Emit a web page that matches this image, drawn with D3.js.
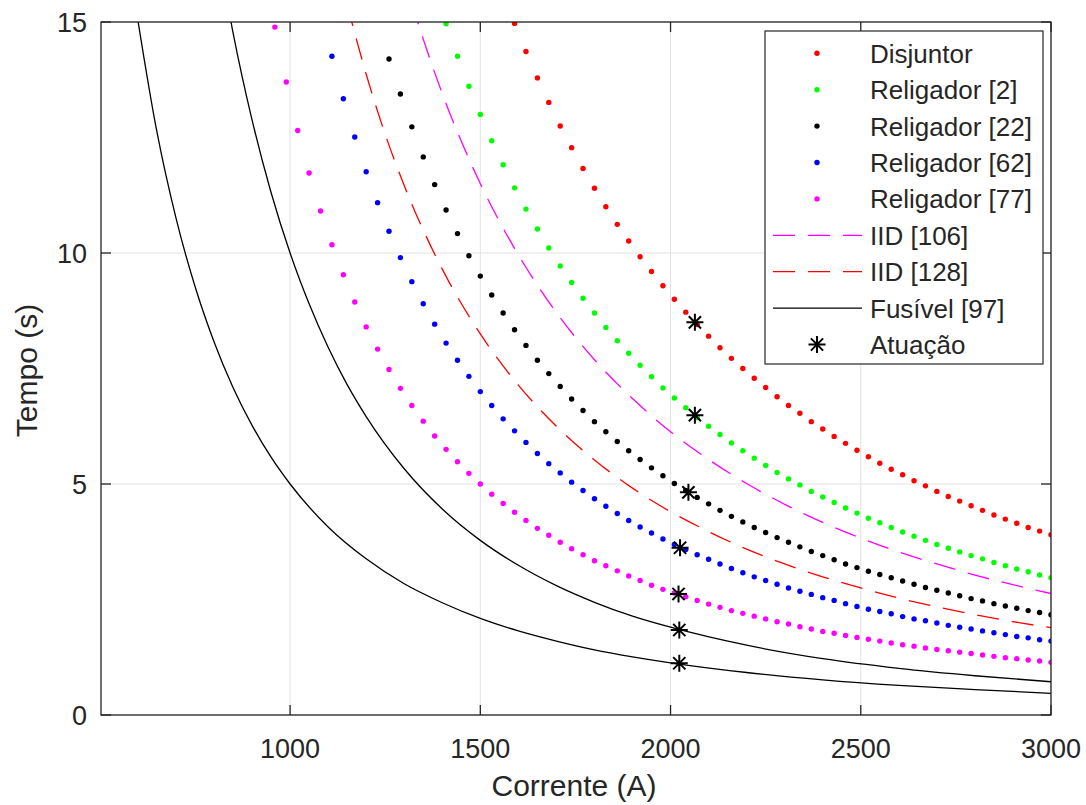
<!DOCTYPE html>
<html>
<head>
<meta charset="utf-8">
<script src="https://cdn.jsdelivr.net/npm/d3@7"></script>
<style>
  body { margin: 0; background: #fff; }
  text { font-family: "Liberation Sans", Arial, Helvetica, sans-serif; fill: #262626; }
</style>
</head>
<body>
<div id="grafico"></div>
<script>
// grade de corrente dos pontos (A) - todas as series terminam em 3000
var corrente = [960, 990, 1020, 1050, 1080, 1110, 1140, 1170, 1200, 1230, 1260, 1290, 1320, 1350, 1380,
  1410, 1440, 1470, 1500, 1530, 1560, 1590, 1620, 1650, 1680, 1710, 1740, 1770, 1800, 1830, 1860, 1890,
  1920, 1950, 1980, 2010, 2040, 2070, 2100, 2130, 2160, 2190, 2220, 2250, 2280, 2310, 2340, 2370, 2400,
  2430, 2460, 2490, 2520, 2550, 2580, 2610, 2640, 2670, 2700, 2730, 2760, 2790, 2820, 2850, 2880, 2910,
  2940, 2970, 3000];

var disjuntor = [14.97, 14.36, 13.79, 13.26, 12.75, 12.28, 11.83, 11.40, 11.00, 10.62, 10.26, 9.92, 9.60,
  9.29, 9.00, 8.72, 8.45, 8.20, 7.95, 7.72, 7.50, 7.29, 7.09, 6.89, 6.70, 6.53, 6.35, 6.19, 6.03, 5.88,
  5.73, 5.59, 5.45, 5.32, 5.20, 5.07, 4.96, 4.84, 4.73, 4.63, 4.53, 4.43, 4.33, 4.24, 4.15, 4.06, 3.98, 3.90];
var religador2 = [14.96, 14.26, 13.61, 13.00, 12.43, 11.91, 11.41, 10.95, 10.52, 10.11, 9.72, 9.36, 9.02,
  8.70, 8.39, 8.10, 7.83, 7.57, 7.32, 7.08, 6.86, 6.65, 6.44, 6.25, 6.07, 5.89, 5.72, 5.56, 5.40, 5.25,
  5.11, 4.98, 4.84, 4.72, 4.60, 4.48, 4.37, 4.26, 4.16, 4.06, 3.96, 3.87, 3.78, 3.69, 3.61, 3.53, 3.45,
  3.38, 3.30, 3.23, 3.16, 3.10, 3.03, 2.97];
var religador22 = [14.20, 13.44, 12.73, 12.08, 11.48, 10.93, 10.42, 9.94, 9.50, 9.09, 8.70, 8.34, 8.00,
  7.68, 7.39, 7.11, 6.84, 6.59, 6.35, 6.13, 5.92, 5.72, 5.53, 5.35, 5.18, 5.01, 4.86, 4.71, 4.57, 4.43,
  4.30, 4.18, 4.06, 3.95, 3.84, 3.74, 3.64, 3.54, 3.45, 3.36, 3.27, 3.19, 3.11, 3.04, 2.97, 2.90, 2.83,
  2.76, 2.70, 2.64, 2.58, 2.52, 2.47, 2.41, 2.36, 2.31, 2.26, 2.22, 2.17];
var religador62 = [14.26, 13.34, 12.51, 11.76, 11.09, 10.47, 9.90, 9.38, 8.90, 8.46, 8.05, 7.68, 7.33,
  7.00, 6.70, 6.41, 6.15, 5.90, 5.66, 5.44, 5.24, 5.04, 4.86, 4.68, 4.52, 4.36, 4.21, 4.07, 3.94, 3.81,
  3.69, 3.58, 3.47, 3.37, 3.27, 3.17, 3.08, 2.99, 2.91, 2.83, 2.75, 2.68, 2.61, 2.54, 2.48, 2.41, 2.35,
  2.29, 2.24, 2.19, 2.13, 2.08, 2.04, 1.99, 1.94, 1.90, 1.86, 1.82, 1.78, 1.74, 1.70, 1.67, 1.63, 1.60];
var religador77 = [14.89, 13.70, 12.65, 11.73, 10.91, 10.18, 9.53, 8.94, 8.40, 7.92, 7.48, 7.07, 6.70,
  6.36, 6.04, 5.75, 5.48, 5.23, 5.00, 4.78, 4.58, 4.39, 4.21, 4.04, 3.89, 3.74, 3.60, 3.47, 3.34, 3.23,
  3.12, 3.01, 2.91, 2.81, 2.72, 2.64, 2.56, 2.48, 2.40, 2.33, 2.26, 2.20, 2.14, 2.08, 2.02, 1.97, 1.91,
  1.86, 1.81, 1.77, 1.72, 1.68, 1.64, 1.60, 1.56, 1.52, 1.49, 1.45, 1.42, 1.39, 1.36, 1.33, 1.30, 1.27,
  1.24, 1.22, 1.19, 1.17, 1.14];

// curvas continuas (IID tracejadas)
var iid106Corrente = [1320, 1350, 1400, 1450, 1500, 1600, 1700, 1800, 1900, 2000, 2100, 2200, 2300, 2400,
  2500, 2600, 2700, 2800, 2900, 3000];
var iid106Tempo = [15.41, 14.63, 13.45, 12.42, 11.50, 9.96, 8.71, 7.69, 6.85, 6.13, 5.53, 5.01, 4.56, 4.17,
  3.83, 3.53, 3.27, 3.03, 2.82, 2.63];
var iid128Corrente = [1150, 1200, 1250, 1300, 1400, 1500, 1600, 1700, 1800, 1900, 2000, 2100, 2200, 2300,
  2400, 2500, 2600, 2700, 2800, 2900, 3000];
var iid128Tempo = [15.38, 13.87, 12.57, 11.46, 9.65, 8.25, 7.14, 6.25, 5.52, 4.91, 4.40, 3.97, 3.59, 3.27,
  2.99, 2.75, 2.53, 2.34, 2.17, 2.02, 1.89];

// fusivel [97]: duas curvas
var fusivelCorrente = [590, 650, 700, 750, 800, 850, 900, 950, 1000, 1100, 1200, 1300, 1400, 1500, 1600,
  1700, 1800, 1900, 2000, 2200, 2400, 2600, 2800, 3000];
var fusivelRapido = [15.55, 12.62, 10.76, 9.28, 8.08, 7.09, 6.27, 5.58, 5.00, 4.07, 3.38, 2.84, 2.43, 2.09,
  1.82, 1.60, 1.41, 1.26, 1.13, 0.92, 0.76, 0.64, 0.55, 0.47];
var fusivelLentoCorrente = [840, 850, 900, 950, 1000, 1050, 1100, 1150, 1200, 1300, 1400, 1500, 1600, 1700,
  1800, 1900, 2000, 2200, 2400, 2600, 2800, 3000];
var fusivelLento = [15.20, 14.77, 12.88, 11.31, 10.00, 8.90, 7.96, 7.15, 6.46, 5.33, 4.46, 3.78, 3.24, 2.80,
  2.44, 2.14, 1.90, 1.51, 1.22, 1.01, 0.85, 0.72];

// pontos de atuacao
var atuacaoCorrente = [2064, 2064, 2047, 2025, 2021, 2023, 2023];
var atuacaoTempo = [8.50, 6.49, 4.82, 3.62, 2.62, 1.84, 1.12];

var xTicks = [1000, 1500, 2000, 2500, 3000];
var yTicks = [0, 5, 10, 15];

var margin = {top: 22, right: 35, bottom: 90, left: 101},
    width = 950,
    height = 693;

var svg = d3.select("#grafico")
  .append("svg")
    .attr("width", 1086)
    .attr("height", 805)
  .append("g")
    .attr("transform", "translate(" + margin.left + "," + margin.top + ")");

var x = d3.scaleLinear().domain([503, 3000]).range([0, width]);
var y = d3.scaleLinear().domain([0, 15]).range([height, 0]);

svg.append("clipPath").attr("id", "area")
  .append("rect").attr("width", width).attr("height", height);

// grade
svg.append("g").selectAll("line").data(xTicks).enter().append("line")
  .attr("x1", function (d) { return x(d); }).attr("x2", function (d) { return x(d); })
  .attr("y1", 0).attr("y2", height)
  .style("stroke", "#e3e3e3").style("stroke-width", 1);
svg.append("g").selectAll("line").data(yTicks).enter().append("line")
  .attr("y1", function (d) { return y(d); }).attr("y2", function (d) { return y(d); })
  .attr("x1", 0).attr("x2", width)
  .style("stroke", "#e3e3e3").style("stroke-width", 1);

var plot = svg.append("g").attr("clip-path", "url(#area)");

var linha = d3.line()
  .x(function (d) { return x(d[0]); })
  .y(function (d) { return y(d[1]); })
  .curve(d3.curveMonotoneX);

function pares(cs, ts) {
  return ts.map(function (t, i) { return [cs[i], t]; });
}

// linhas
plot.append("path").datum(pares(fusivelCorrente, fusivelRapido))
  .attr("d", linha).style("fill", "none").style("stroke", "#000").style("stroke-width", 1.3);
plot.append("path").datum(pares(fusivelLentoCorrente, fusivelLento))
  .attr("d", linha).style("fill", "none").style("stroke", "#000").style("stroke-width", 1.3);
plot.append("path").datum(pares(iid106Corrente, iid106Tempo))
  .attr("d", linha).style("fill", "none").style("stroke", "#ff00ff").style("stroke-width", 1.3)
  .style("stroke-dasharray", "22,13");
plot.append("path").datum(pares(iid128Corrente, iid128Tempo))
  .attr("d", linha).style("fill", "none").style("stroke", "#ff0000").style("stroke-width", 1.3)
  .style("stroke-dasharray", "22,13");

// series pontilhadas (alinhadas ao fim da grade de corrente)
var series = [
  {nome: "Disjuntor", t: disjuntor, cor: "#ff0000"},
  {nome: "Religador [2]", t: religador2, cor: "#00ff00"},
  {nome: "Religador [22]", t: religador22, cor: "#000000"},
  {nome: "Religador [62]", t: religador62, cor: "#0000ff"},
  {nome: "Religador [77]", t: religador77, cor: "#ff00ff"}
];

series.forEach(function (s) {
  var ini = corrente.length - s.t.length;
  plot.append("g")
    .selectAll("circle")
    .data(s.t)
    .enter()
    .append("circle")
      .attr("cx", function (d, i) { return x(corrente[ini + i]); })
      .attr("cy", function (d) { return y(d); })
      .attr("r", 2.7)
      .style("fill", s.cor);
});

// asterisco
function asterisco(s) {
  var d = s * 0.72;
  return "M0," + (-s) + "L0," + s + "M" + (-s) + ",0L" + s + ",0" +
    "M" + (-d) + "," + (-d) + "L" + d + "," + d + "M" + (-d) + "," + d + "L" + d + "," + (-d);
}

svg.append("g")
  .selectAll("path")
  .data(atuacaoTempo)
  .enter()
  .append("path")
    .attr("d", asterisco(8.5))
    .attr("transform", function (d, i) { return "translate(" + x(atuacaoCorrente[i]) + "," + y(d) + ")"; })
    .style("fill", "none").style("stroke", "#000").style("stroke-width", 2);

// eixos (caixa com marcas internas)
var cinza = "#262626";
svg.append("rect").attr("width", width).attr("height", height)
  .style("fill", "none").style("stroke", cinza).style("stroke-width", 1.3);

var marcas = svg.append("g");
xTicks.forEach(function (v) {
  marcas.append("line").attr("x1", x(v)).attr("x2", x(v)).attr("y1", height).attr("y2", height - 10)
    .style("stroke", cinza).style("stroke-width", 1.3);
  marcas.append("line").attr("x1", x(v)).attr("x2", x(v)).attr("y1", 0).attr("y2", 10)
    .style("stroke", cinza).style("stroke-width", 1.3);
  marcas.append("text").attr("x", x(v)).attr("y", height + 43)
    .attr("text-anchor", "middle").style("font-size", "27px").text(v);
});
yTicks.forEach(function (v) {
  marcas.append("line").attr("x1", 0).attr("x2", 10).attr("y1", y(v)).attr("y2", y(v))
    .style("stroke", cinza).style("stroke-width", 1.3);
  marcas.append("line").attr("x1", width).attr("x2", width - 10).attr("y1", y(v)).attr("y2", y(v))
    .style("stroke", cinza).style("stroke-width", 1.3);
  marcas.append("text").attr("x", -14).attr("y", y(v) + 10)
    .attr("text-anchor", "end").style("font-size", "27px").text(v);
});

svg.append("text")
  .attr("text-anchor", "middle")
  .attr("x", width / 2 - 2)
  .attr("y", height + 81)
  .style("font-size", "30px")
  .text("Corrente (A)");

svg.append("text")
  .attr("text-anchor", "middle")
  .attr("transform", "translate(" + (-64) + "," + (height / 2 + 2) + ") rotate(-90)")
  .style("font-size", "30px")
  .text("Tempo (s)");

// legenda
var leg = svg.append("g").attr("transform", "translate(" + (765 - margin.left) + "," + (31 - margin.top) + ")");
leg.append("rect").attr("width", 278).attr("height", 333)
  .style("fill", "#fff").style("stroke", cinza).style("stroke-width", 1.2);

var itens = series.map(function (s) { return {nome: s.nome, cor: s.cor, tipo: "ponto"}; });
itens.push({nome: "IID [106]", cor: "#ff00ff", tipo: "tracejado"});
itens.push({nome: "IID [128]", cor: "#ff0000", tipo: "tracejado"});
itens.push({nome: "Fusível [97]", cor: "#000000", tipo: "linha"});
itens.push({nome: "Atuação", cor: "#000000", tipo: "asterisco"});

itens.forEach(function (it, i) {
  var yy = 22.3 + i * 36.4;
  if (it.tipo === "ponto") {
    leg.append("circle").attr("cx", 52).attr("cy", yy).attr("r", 2.7).style("fill", it.cor);
  } else if (it.tipo === "asterisco") {
    leg.append("path").attr("d", asterisco(8.5)).attr("transform", "translate(52," + yy + ")")
      .style("fill", "none").style("stroke", "#000").style("stroke-width", 2);
  } else {
    leg.append("line").attr("x1", 8).attr("x2", 97).attr("y1", yy).attr("y2", yy)
      .style("stroke", it.cor).style("stroke-width", 1.3)
      .style("stroke-dasharray", it.tipo === "tracejado" ? "22,13" : null);
  }
  leg.append("text").attr("x", 105).attr("y", yy + 9.5)
    .style("font-size", "26px").text(it.nome);
});
</script>
</body>
</html>
